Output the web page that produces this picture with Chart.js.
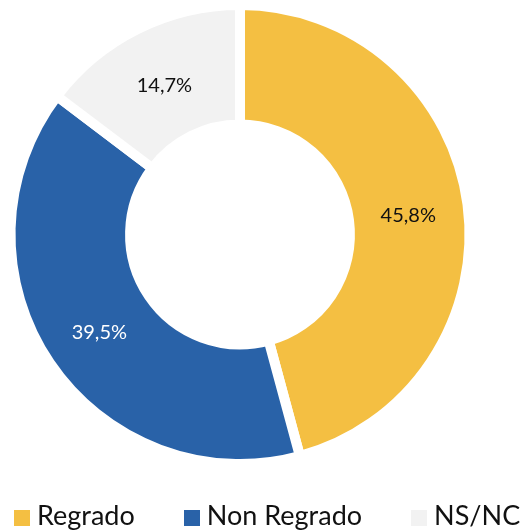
<!DOCTYPE html>
<html>
<head>
<meta charset="utf-8">
<script src="https://cdn.jsdelivr.net/npm/chart.js@4/dist/chart.umd.min.js"></script>
<style>
  html, body { margin: 0; padding: 0; background: #ffffff; }
  #wrap { position: relative; width: 527px; height: 531px; }
  #legend {
    position: absolute; left: 14px; top: 501px;
    display: flex; align-items: center; gap: 49px;
    font-family: Lato, sans-serif; font-size: 27px; line-height: 27px; color: #111;
    white-space: nowrap;
  }
  .item { display: flex; align-items: center; }
  .box { width: 16px; height: 16px; margin-right: 7px; transform: translateY(3px); }
</style>
</head>
<body>
<div id="wrap">
  <canvas id="c" width="527" height="531"></canvas>
  <div id="legend"></div>
</div>
<script>
const categories = ['Regrado', 'Non Regrado', 'NS/NC'];
const values = [45.8, 39.5, 14.7];
const colors = ['#F4BF42', '#2962A8', '#F2F2F2'];
const labelColors = ['#111111', '#ffffff', '#111111'];

function fmt(v) { return v.toFixed(1).replace('.', ',') + '%'; }

const valueLabels = {
  id: 'valueLabels',
  afterDatasetsDraw(chart) {
    const ctx = chart.ctx;
    const meta = chart.getDatasetMeta(0);
    ctx.save();
    ctx.font = '20px Lato, sans-serif';
    ctx.textAlign = 'center';
    ctx.textBaseline = 'middle';
    meta.data.forEach((arc, i) => {
      const p = arc.tooltipPosition();
      ctx.fillStyle = labelColors[i];
      ctx.fillText(fmt(values[i]), p.x, p.y + 3);
    });
    ctx.restore();
  }
};

new Chart(document.getElementById('c'), {
  type: 'doughnut',
  data: {
    labels: categories,
    datasets: [{
      data: values,
      backgroundColor: colors,
      borderColor: '#ffffff',
      borderWidth: 10,
      hoverOffset: 0
    }]
  },
  options: {
    responsive: false,
    animation: false,
    cutout: '47.9%',
    layout: { padding: { left: 0, right: 47, top: 0, bottom: 62 } },
    plugins: {
      legend: { display: false },
      tooltip: { enabled: false }
    }
  },
  plugins: [valueLabels]
});

const legend = document.getElementById('legend');
categories.forEach((name, i) => {
  const item = document.createElement('div');
  item.className = 'item';
  const box = document.createElement('span');
  box.className = 'box';
  box.style.background = colors[i];
  const txt = document.createElement('span');
  txt.textContent = name;
  item.appendChild(box);
  item.appendChild(txt);
  legend.appendChild(item);
});
</script>
</body>
</html>
